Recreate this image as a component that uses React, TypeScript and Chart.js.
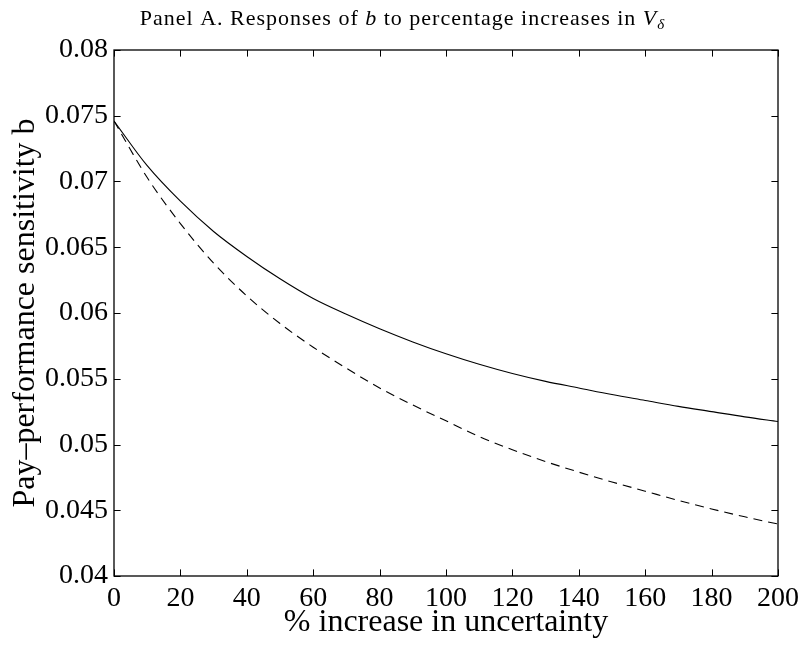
import React, { useEffect, useRef } from "react";
import { Chart, registerables } from "chart.js";

Chart.register(...registerables);

// % increase in uncertainty
const increasePct = [0, 10, 20, 30, 40, 50, 60, 70, 80, 90, 100, 110, 120, 130, 140, 150, 160, 170, 180, 190, 200];
// pay-performance sensitivity b, solid curve
const bSolid = [0.0746, 0.0712, 0.0685, 0.0662, 0.0643, 0.0626, 0.0611, 0.0599, 0.0588, 0.0578, 0.0569, 0.0561, 0.0554, 0.0548, 0.0543, 0.0538, 0.05335, 0.0529, 0.0525, 0.0521, 0.05175];
// pay-performance sensitivity b, dashed curve
const bDashed = [0.0746, 0.0703, 0.0668, 0.0638, 0.0613, 0.0592, 0.0574, 0.0558, 0.0543, 0.0530, 0.0518, 0.0506, 0.0496, 0.0487, 0.0479, 0.04715, 0.04645, 0.04575, 0.0451, 0.0445, 0.04395];

const xTickValues = [0, 20, 40, 60, 80, 100, 120, 140, 160, 180, 200];
const yTickValues = [0.04, 0.045, 0.05, 0.055, 0.06, 0.065, 0.07, 0.075, 0.08];

const xTitle = "% increase in uncertainty";
const yTitle = "Pay\u2013performance sensitivity b";

// Heading pieces: [text, italic, subscript]
const heading: [string, boolean, boolean][] = [
  ["Panel A. Responses of ", false, false],
  ["b", true, false],
  [" to percentage increases in ", false, false],
  ["V", true, false],
  ["\u03b4", true, true],
];

const SERIF = "'Liberation Serif', 'Times New Roman', serif";
const TICK_LEN = 6.6;

// Box frame with inward ticks on all four sides
const boxTicks = {
  id: "boxTicks",
  afterDraw(chart: any) {
    const { ctx, chartArea: a, scales } = chart;
    ctx.save();
    ctx.strokeStyle = "#000";
    ctx.lineWidth = 1;
    ctx.beginPath();
    for (const v of xTickValues) {
      const px = Math.round(scales.x.getPixelForValue(v)) + 0.5;
      ctx.moveTo(px, a.bottom);
      ctx.lineTo(px, a.bottom - TICK_LEN);
      ctx.moveTo(px, a.top);
      ctx.lineTo(px, a.top + TICK_LEN);
    }
    for (const v of yTickValues) {
      const py = Math.round(scales.y.getPixelForValue(v)) + 0.5;
      ctx.moveTo(a.left, py);
      ctx.lineTo(a.left + TICK_LEN, py);
      ctx.moveTo(a.right, py);
      ctx.lineTo(a.right - TICK_LEN, py);
    }
    ctx.stroke();
    ctx.lineWidth = 1.3;
    ctx.strokeRect(a.left, a.top, a.right - a.left, a.bottom - a.top);
    ctx.restore();
  },
};

// Heading with italic symbols and a subscript
const headingPlugin = {
  id: "headingPlugin",
  afterDraw(chart: any) {
    const { ctx, width } = chart;
    const size = 22;
    const subSize = 15;
    ctx.save();
    ctx.fillStyle = "#000";
    ctx.textBaseline = "alphabetic";
    (ctx as any).letterSpacing = "1px";
    const fontFor = (italic: boolean, sub: boolean) =>
      `${italic ? "italic " : ""}${sub ? subSize : size}px ${SERIF}`;
    let total = 0;
    for (const [t, it, sub] of heading) {
      ctx.font = fontFor(it, sub);
      total += ctx.measureText(t).width;
    }
    let x = width / 2 - total / 2;
    const baseline = 25;
    for (const [t, it, sub] of heading) {
      ctx.font = fontFor(it, sub);
      ctx.fillText(t, x, sub ? baseline + 4 : baseline);
      x += ctx.measureText(t).width;
    }
    ctx.restore();
  },
};

export default function App() {
  const canvasRef = useRef<HTMLCanvasElement | null>(null);

  useEffect(() => {
    if (!canvasRef.current) return;
    const chart = new Chart(canvasRef.current, {
      type: "line",
      data: {
        datasets: [
          {
            data: increasePct.map((x, i) => ({ x, y: bSolid[i] })),
            borderColor: "#000",
            borderWidth: 1.1,
            pointRadius: 0,
            cubicInterpolationMode: "monotone",
            fill: false,
          },
          {
            data: increasePct.map((x, i) => ({ x, y: bDashed[i] })),
            borderColor: "#000",
            borderWidth: 1.1,
            borderDash: [9, 6],
            pointRadius: 0,
            cubicInterpolationMode: "monotone",
            fill: false,
          },
        ],
      },
      options: {
        animation: false,
        responsive: false,
        devicePixelRatio: 1,
        layout: { padding: { top: 50, right: 26, bottom: 0, left: 0 } },
        plugins: {
          legend: { display: false },
          tooltip: { enabled: false },
          title: { display: false },
        },
        scales: {
          x: {
            type: "linear",
            min: 0,
            max: 200,
            afterBuildTicks: (s: any) => {
              s.ticks = xTickValues.map((value) => ({ value }));
            },
            afterFit: (s: any) => {
              s.height = 71;
            },
            grid: { display: false, drawTicks: false },
            border: { display: false },
            ticks: {
              color: "#000",
              font: { family: SERIF, size: 28 },
              padding: 6,
              maxRotation: 0,
              autoSkip: false,
            },
            title: {
              display: true,
              text: xTitle,
              color: "#000",
              font: { family: SERIF, size: 32 },
              padding: { top: 0, bottom: 5 },
            },
          },
          y: {
            type: "linear",
            min: 0.04,
            max: 0.08,
            afterBuildTicks: (s: any) => {
              s.ticks = yTickValues.map((value) => ({ value }));
            },
            afterFit: (s: any) => {
              s.width = 114;
            },
            grid: { display: false, drawTicks: false },
            border: { display: false },
            ticks: {
              color: "#000",
              font: { family: SERIF, size: 28 },
              padding: 6,
              autoSkip: false,
              callback: (v: any) => String(+Number(v).toFixed(3)),
            },
            title: {
              display: true,
              text: yTitle,
              color: "#000",
              font: { family: SERIF, size: 32 },
              padding: { top: 6, bottom: 0 },
            },
          },
        },
      },
      plugins: [boxTicks, headingPlugin],
    });
    return () => chart.destroy();
  }, []);

  return (
    <div style={{ position: "absolute", left: 0, top: 0, width: 805, height: 647, background: "#fff" }}>
      <canvas ref={canvasRef} width={805} height={647} />
    </div>
  );
}
